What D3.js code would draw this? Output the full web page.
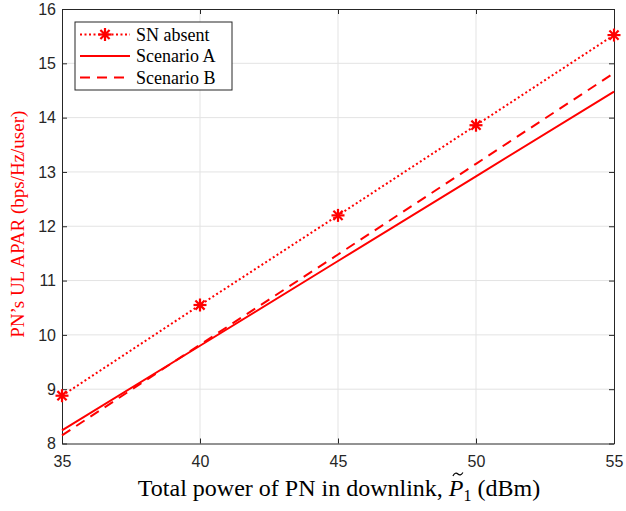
<!DOCTYPE html>
<html>
<head>
<meta charset="utf-8">
<script src="https://cdn.jsdelivr.net/npm/d3@7"></script>
<style>
  html, body { margin: 0; padding: 0; background: #fff; }
  svg { display: block; }
</style>
</head>
<body>
<svg id="chart" width="626" height="511"></svg>
<script>
// Transmit power of the PN in downlink (dBm)
const powerDbm = [35, 40, 45, 50, 55];
// Uplink average per-user achievable rate (bps/Hz/user)
const snAbsent  = [8.88, 10.55, 12.20, 13.86, 15.52];
const scenarioA = [8.24, 9.80, 11.36, 12.92, 14.48];
const scenarioB = [8.15, 9.82, 11.48, 13.15, 14.82];
const xTicks = [35, 40, 45, 50, 55];
const yTicks = [8, 9, 10, 11, 12, 13, 14, 15, 16];

const series = [
  { name: "SN absent",  values: snAbsent,  dash: "2,2.5", marker: true },
  { name: "Scenario A", values: scenarioA, dash: null,    marker: false },
  { name: "Scenario B", values: scenarioB, dash: "10,7",  marker: false }
];

const margin = { left: 62, top: 9, right: 12, bottom: 67.5 };
const W = 626, H = 511;
const svg = d3.select("#chart");
const plotW = W - margin.left - margin.right;
const plotH = H - margin.top - margin.bottom;

const x = d3.scaleLinear().domain([35, 55]).range([0, plotW]);
const y = d3.scaleLinear().domain([8, 16]).range([plotH, 0]);

const g = svg.append("g").attr("transform", `translate(${margin.left},${margin.top})`);
const red = "#ff0000";
const axisColor = "#262626";
const serif = "Liberation Serif, Times New Roman, serif";

// grid
g.append("g").selectAll("line").data(xTicks.slice(1, -1)).join("line")
  .attr("x1", d => x(d)).attr("x2", d => x(d)).attr("y1", 0).attr("y2", plotH)
  .attr("stroke", "#e3e3e3").attr("stroke-width", 1);
g.append("g").selectAll("line").data(yTicks.slice(1, -1)).join("line")
  .attr("y1", d => y(d)).attr("y2", d => y(d)).attr("x1", 0).attr("x2", plotW)
  .attr("stroke", "#e3e3e3").attr("stroke-width", 1);

// axes with inward ticks, boxed
const tickFont = "Liberation Sans, Arial, sans-serif";
const xAxis = g.append("g").attr("transform", `translate(0,${plotH})`)
  .call(d3.axisBottom(x).tickValues(xTicks).tickSizeInner(-5).tickSizeOuter(0).tickPadding(12));
const yAxis = g.append("g")
  .call(d3.axisLeft(y).tickValues(yTicks).tickSizeInner(-5).tickSizeOuter(0).tickPadding(6));
const xTop = g.append("g")
  .call(d3.axisTop(x).tickValues(xTicks).tickSizeInner(-5).tickSizeOuter(0).tickFormat(""));
const yRight = g.append("g").attr("transform", `translate(${plotW},0)`)
  .call(d3.axisRight(y).tickValues(yTicks).tickSizeInner(-5).tickSizeOuter(0).tickFormat(""));
[xAxis, yAxis, xTop, yRight].forEach(a => {
  a.select(".domain").attr("stroke", axisColor).attr("stroke-width", 1);
  a.selectAll(".tick line").attr("stroke", axisColor);
  a.selectAll(".tick text").attr("fill", axisColor)
    .style("font-family", tickFont).style("font-size", "16px");
});
xAxis.selectAll(".tick text").attr("dy", "0.71em");

// lines
const line = d3.line().x((d, i) => x(powerDbm[i])).y(d => y(d));
series.forEach(s => {
  g.append("path").datum(s.values)
    .attr("d", line)
    .attr("fill", "none").attr("stroke", red).attr("stroke-width", 2)
    .attr("stroke-dasharray", s.dash);
});

// asterisk markers
function asterisk(sel, cx, cy, r) {
  [0, 45, 90, 135].forEach(a => {
    const rad = a * Math.PI / 180;
    sel.append("line")
      .attr("x1", cx - r * Math.cos(rad)).attr("y1", cy - r * Math.sin(rad))
      .attr("x2", cx + r * Math.cos(rad)).attr("y2", cy + r * Math.sin(rad))
      .attr("stroke", red).attr("stroke-width", 2.2);
  });
}
const mk = g.append("g");
snAbsent.forEach((v, i) => asterisk(mk, x(powerDbm[i]), y(v), 6.5));

// legend
const leg = svg.append("g").attr("transform", "translate(75,22)");
leg.append("rect").attr("width", 157).attr("height", 68)
  .attr("fill", "#fff").attr("stroke", axisColor).attr("stroke-width", 1);
series.forEach((s, i) => {
  const ly = 12.5 + i * 21.5;
  leg.append("line").attr("x1", 5).attr("x2", 55).attr("y1", ly).attr("y2", ly)
    .attr("stroke", red).attr("stroke-width", 2).attr("stroke-dasharray", s.dash);
  if (s.marker) asterisk(leg, 30, ly, 6.5);
  leg.append("text").attr("x", 61).attr("y", ly).attr("dy", "0.35em")
    .style("font-family", serif)
    .style("font-size", "18px").attr("fill", "#000").text(s.name);
});

// x label; the tilde over the italic P is drawn as a small curve
const xl = svg.append("text")
  .attr("x", margin.left + plotW / 2 + 1).attr("y", 496)
  .attr("text-anchor", "middle")
  .style("font-family", serif)
  .style("font-size", "24px").attr("fill", "#000");
const pre = "Total power of PN in downlink, ";
xl.append("tspan").text(pre);
xl.append("tspan").style("font-style", "italic").text("P");
xl.append("tspan").attr("dy", 5).style("font-size", "16px").text("1");
xl.append("tspan").attr("dy", -5).text(" (dBm)");
const pNode = xl.node();
const pStart = pNode.getStartPositionOfChar(pre.length);
const pExt = pNode.getExtentOfChar(pre.length);
const tx = pStart.x + pExt.width * 0.62;
svg.append("path")
  .attr("d", `M${tx - 5},476 Q${tx - 2.5},471.5 ${tx},474 T${tx + 5},472.5`)
  .attr("fill", "none").attr("stroke", "#000").attr("stroke-width", 1.2);

// y label
svg.append("text")
  .attr("transform", `translate(24,${margin.top + plotH / 2 - 2}) rotate(-90)`)
  .attr("text-anchor", "middle")
  .style("font-family", serif)
  .style("font-size", "19px").attr("fill", red)
  .text("PN\u2019s UL APAR (bps/Hz/user)");
</script>
</body>
</html>
